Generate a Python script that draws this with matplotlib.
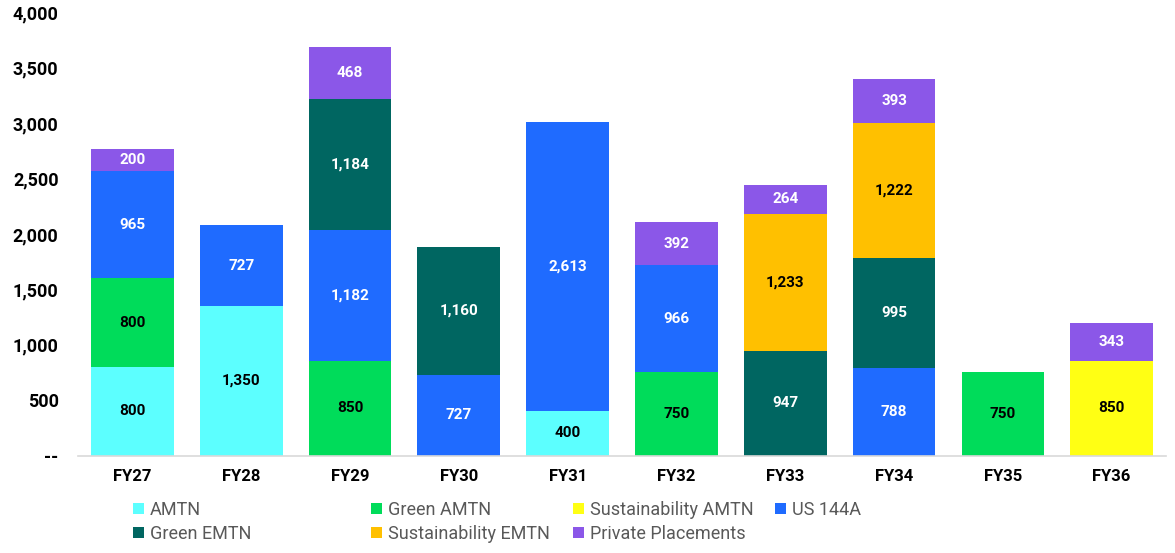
import numpy as np
import matplotlib
matplotlib.use('Agg')
import matplotlib.pyplot as plt
from matplotlib.patches import Patch

plt.rcParams['font.family'] = ['Roboto', 'DejaVu Sans']

# Data
years = ['FY27', 'FY28', 'FY29', 'FY30', 'FY31', 'FY32', 'FY33', 'FY34', 'FY35', 'FY36']
amtn = [800, 1350, 0, 0, 400, 0, 0, 0, 0, 0]
green_amtn = [800, 0, 850, 0, 0, 750, 0, 0, 750, 0]
sust_amtn = [0, 0, 0, 0, 0, 0, 0, 0, 0, 850]
us_144a = [965, 727, 1182, 727, 2613, 966, 0, 788, 0, 0]
green_emtn = [0, 0, 1184, 1160, 0, 0, 947, 995, 0, 0]
sust_emtn = [0, 0, 0, 0, 0, 0, 1233, 1222, 0, 0]
private_pl = [200, 0, 468, 0, 0, 392, 264, 393, 0, 343]

series = [
    ('AMTN', amtn, '#5CFFFF', 'black'),
    ('Green AMTN', green_amtn, '#00DC5A', 'black'),
    ('Sustainability AMTN', sust_amtn, '#FFFF14', 'black'),
    ('US 144A', us_144a, '#1F6BFF', 'white'),
    ('Green EMTN', green_emtn, '#006661', 'white'),
    ('Sustainability EMTN', sust_emtn, '#FFC000', 'black'),
    ('Private Placements', private_pl, '#8B57E8', 'white'),
]

fig = plt.figure(figsize=(11.75, 5.53), dpi=100)
ax = fig.add_axes([0.0664, 1 - 455.5 / 553, 0.926, 443 / 553])

x = np.arange(len(years))
bottom = np.zeros(len(years))
handles = {}
for name, vals, col, txtcol in series:
    vals = np.array(vals, dtype=float)
    bars = ax.bar(x, vals, 0.76, bottom=bottom, color=col, label=name)
    labels = [f'{v:,.0f}' if v > 0 else '' for v in vals]
    ax.bar_label(bars, labels=labels, label_type='center', color=txtcol,
                 fontsize=11, fontweight='bold')
    handles[name] = Patch(facecolor=col)
    bottom += vals

ax.set_xlim(-0.5, 9.5)
ax.set_ylim(0, 4000)
ax.set_yticks(np.arange(0, 4001, 500))
ax.set_yticklabels(['--'] + [f'{v:,}' for v in range(500, 4001, 500)],
                   fontsize=13, fontweight='bold')
ax.set_xticks(x)
ax.set_xticklabels(years, fontsize=12, fontweight='bold')
ax.tick_params(axis='y', length=0, pad=14)
ax.tick_params(axis='x', length=0, pad=10)
for s in ['top', 'right', 'left']:
    ax.spines[s].set_visible(False)
ax.spines['bottom'].set_color('#D9D9D9')
ax.spines['bottom'].set_linewidth(1.2)

# Legend, one column at a time
legend_cols = [
    (['AMTN', 'Green EMTN'], 133),
    (['Green AMTN', 'Sustainability EMTN'], 371),
    (['Sustainability AMTN', 'Private Placements'], 573),
    (['US 144A'], 775),
]
for names, px in legend_cols:
    fig.legend([handles[n] for n in names], names,
               loc='upper left', bbox_to_anchor=(px / 1175, 1 - 501 / 553),
               frameon=False, fontsize=13, labelcolor='#595959',
               handlelength=0.6, handleheight=0.6, handletextpad=0.35,
               borderpad=0, borderaxespad=0, labelspacing=0.33)

fig.savefig('out.png', dpi=100)
